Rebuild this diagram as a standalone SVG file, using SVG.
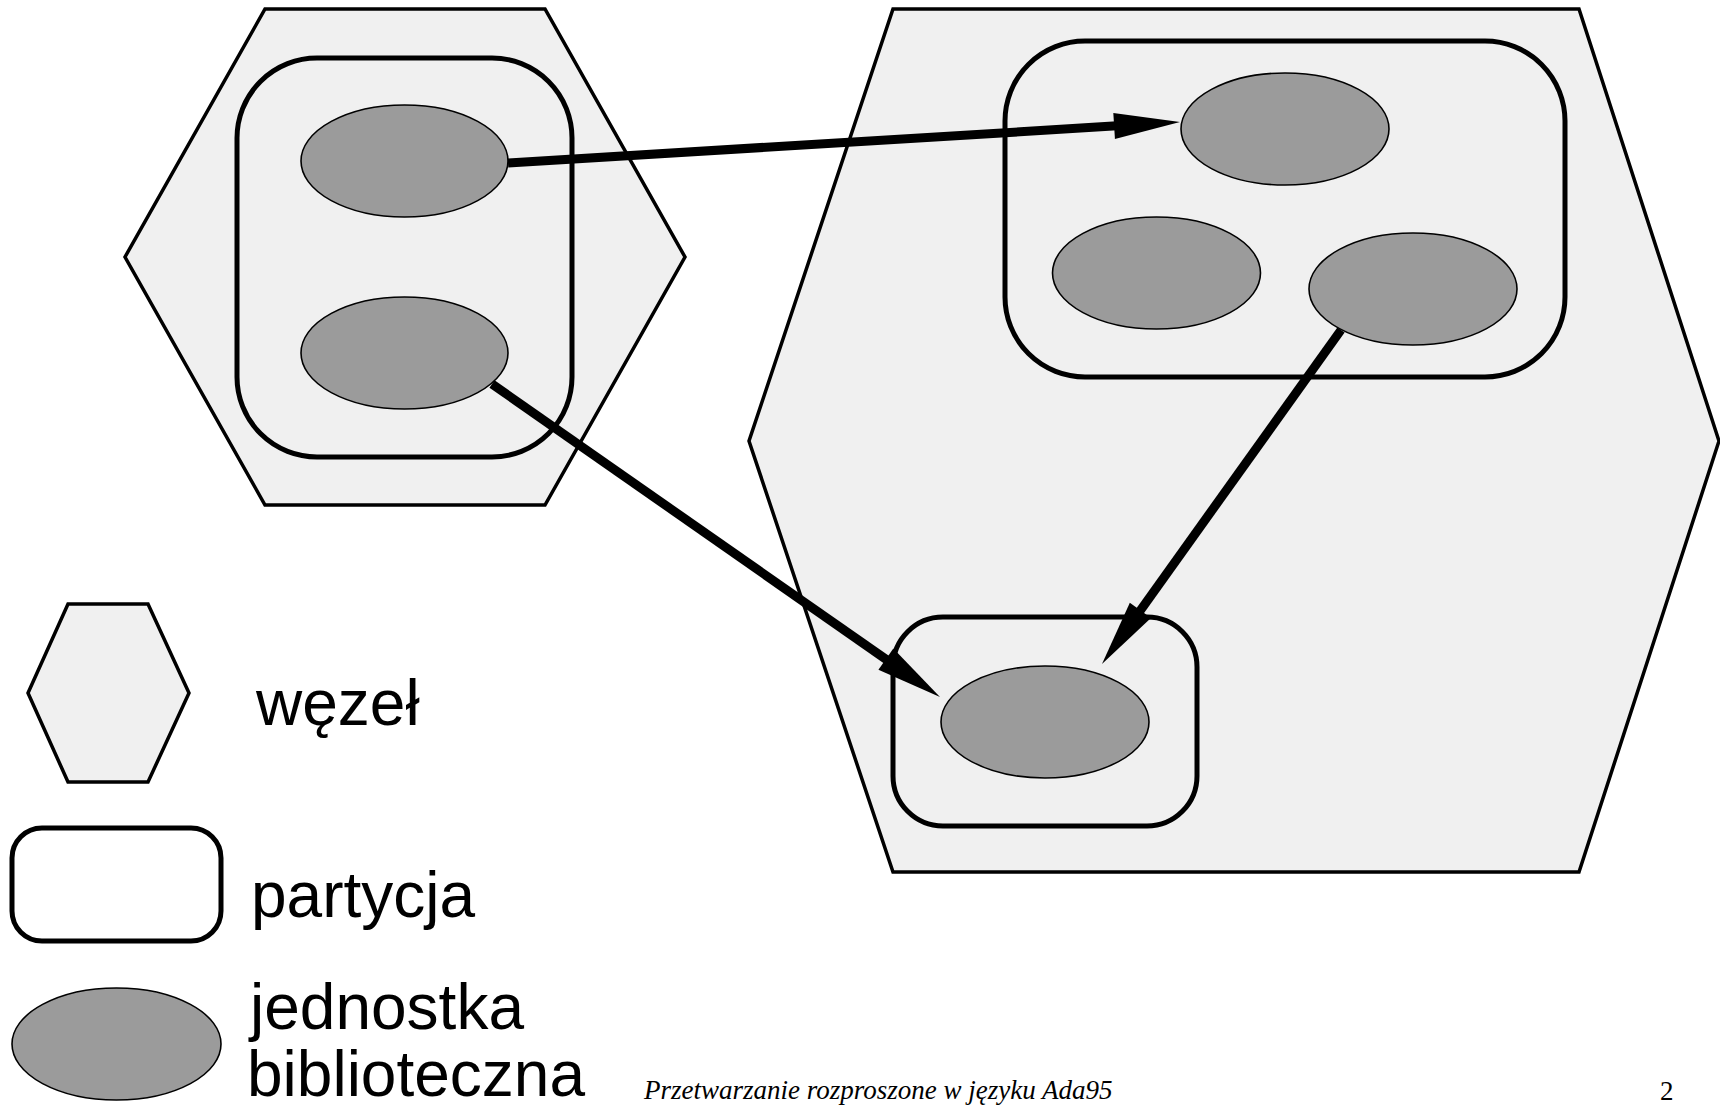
<svg xmlns="http://www.w3.org/2000/svg" width="1720" height="1109" viewBox="0 0 1720 1109">
  <style>
    .hex { fill: #f0f0f0; stroke: #000; stroke-width: 3.5; stroke-linejoin: miter; }
    .part { fill: #f0f0f0; stroke: #000; stroke-width: 5; }
    .unit { fill: #9b9b9b; stroke: #000; stroke-width: 1.6; }
    .conn { fill: none; stroke: #000; stroke-width: 9; marker-end: url(#head); }
    .lbl { font-family: "Liberation Sans", Arial, sans-serif; font-size: 64px; fill: #000; }
    .foot { font-family: "Liberation Serif", "Times New Roman", serif; font-size: 27px; fill: #000; }
  </style>
  <defs>
    <marker id="head" markerUnits="userSpaceOnUse" markerWidth="70" markerHeight="30" refX="11" refY="13" orient="auto" overflow="visible">
      <path d="M0,0 L66,13 L0,26 Z" fill="#000"/>
    </marker>
  </defs>
  <rect width="1720" height="1109" fill="#fff"/>

  <g id="node-left">
    <polygon class="hex" points="265,9 545,9 685,257 545,505 265,505 125,257"/>
  </g>
  <g id="node-right">
    <polygon class="hex" points="893,9 1579,9 1719,441 1579,872 893,872 749,441"/>
  </g>
  <g id="partition-left">
    <rect class="part" x="237" y="58" width="335" height="399" rx="80" ry="80"/>
  </g>
  <g id="partition-top">
    <rect class="part" x="1005" y="41" width="560" height="336" rx="80" ry="80"/>
  </g>
  <g id="partition-bottom">
    <rect class="part" x="893" y="617" width="304" height="209" rx="50" ry="50"/>
  </g>
  <g id="unit-1">
    <ellipse class="unit" cx="404.5" cy="161" rx="103.5" ry="56"/>
  </g>
  <g id="unit-2">
    <ellipse class="unit" cx="404.5" cy="353" rx="103.5" ry="56"/>
  </g>
  <g id="unit-3">
    <ellipse class="unit" cx="1285" cy="129" rx="104" ry="56"/>
  </g>
  <g id="unit-4">
    <ellipse class="unit" cx="1156.5" cy="273" rx="104" ry="56"/>
  </g>
  <g id="unit-5">
    <ellipse class="unit" cx="1413" cy="289" rx="104" ry="56"/>
  </g>
  <g id="unit-6">
    <ellipse class="unit" cx="1045" cy="722" rx="104" ry="56"/>
  </g>

  <g id="connectors">
    <line class="conn" x1="508" y1="163" x2="1125.1" y2="125.35"/>
    <line class="conn" x1="492" y1="384" x2="894.9" y2="665.5"/>
    <line class="conn" x1="1341" y1="330" x2="1134" y2="619.3"/>
  </g>

  <g id="legend-node">
    <polygon class="hex" points="68,604 148,604 189,693 148,782 68,782 28,693"/>
    <text class="lbl" x="256" y="725">węzeł</text>
  </g>
  <g id="legend-partition">
    <rect x="12" y="828" width="209" height="113" rx="30" ry="30" fill="#fff" stroke="#000" stroke-width="5"/>
    <text class="lbl" x="251" y="917">partycja</text>
  </g>
  <g id="legend-unit">
    <ellipse class="unit" cx="116.5" cy="1044" rx="104.5" ry="56"/>
    <text class="lbl" x="250" y="1029">jednostka</text>
    <text class="lbl" x="247" y="1096">biblioteczna</text>
  </g>

  <g id="footer">
    <text class="foot" x="644" y="1099" font-style="italic">Przetwarzanie rozproszone w języku Ada95</text>
    <text class="foot" x="1660" y="1100">2</text>
  </g>
</svg>
